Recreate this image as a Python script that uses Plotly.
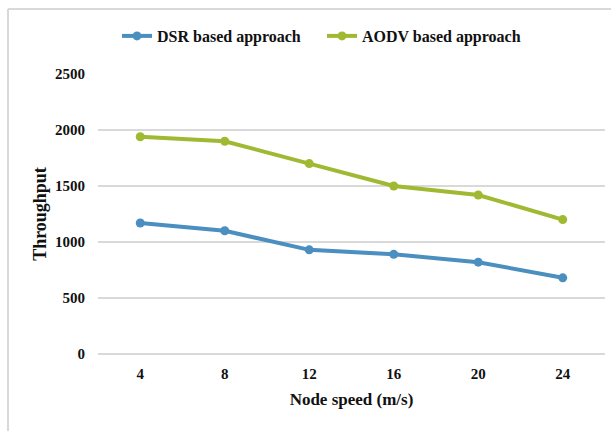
import plotly.graph_objects as go

# Node speed categories (m/s) and throughput for each routing approach
node_speed = ["4", "8", "12", "16", "20", "24"]
dsr_throughput = [1170, 1100, 930, 890, 820, 680]
aodv_throughput = [1940, 1900, 1700, 1500, 1420, 1200]
y_ticks = [0, 500, 1000, 1500, 2000, 2500]

W, H = 611, 431
M_L, M_R, M_T, M_B = 98, 6, 74, 77

BLUE = "#4a8fbf"
GREEN = "#9fba32"
SERIF = "Liberation Serif, Times New Roman, serif"
FONT = dict(family=SERIF, size=15, color="#111111", weight="bold")
LEGEND_FONT = dict(FONT, size=16)
TITLE_FONT = dict(FONT, size=17)

fig = go.Figure()
fig.add_trace(go.Scatter(
    x=node_speed, y=dsr_throughput, name="DSR based approach",
    mode="lines+markers",
    line=dict(color=BLUE, width=4),
    marker=dict(color=BLUE, size=9),
))
fig.add_trace(go.Scatter(
    x=node_speed, y=aodv_throughput, name="AODV based approach",
    mode="lines+markers",
    line=dict(color=GREEN, width=4),
    marker=dict(color=GREEN, size=9),
))

# Light frame along the top and left edges of the chart area
pw = W - M_L - M_R
ph = H - M_T - M_B
x_left = (8 - M_L) / pw
y_top = (H - M_B - 9) / ph
fig.add_shape(type="line", xref="paper", yref="paper",
              x0=x_left, x1=(W - M_L) / pw, y0=y_top, y1=y_top,
              line=dict(color="#d9d9d9", width=2))
fig.add_shape(type="line", xref="paper", yref="paper",
              x0=x_left, x1=x_left, y0=y_top, y1=(H - M_B - H) / ph,
              line=dict(color="#d9d9d9", width=2))

fig.update_layout(
    width=W, height=H,
    margin=dict(l=M_L, r=M_R, t=M_T, b=M_B),
    paper_bgcolor="white", plot_bgcolor="white",
    font=FONT,
    showlegend=True,
    legend=dict(orientation="h", x=(117 - M_L) / pw, xanchor="left",
                y=1 + (M_T - 36) / ph, yanchor="middle",
                font=LEGEND_FONT, itemwidth=30, tracegroupgap=0,
                entrywidth=160, entrywidthmode="pixels"),
    xaxis=dict(
        type="category", range=[-0.5, len(node_speed) - 0.5],
        showgrid=False, showline=False, zeroline=False,
        ticks="", tickfont=FONT, ticklabelstandoff=9,
        title=dict(text="Node speed (m/s)", font=TITLE_FONT, standoff=12),
    ),
    yaxis=dict(
        range=[0, 2500], tickvals=y_ticks,
        showgrid=True, gridcolor="#d9d9d9", gridwidth=1.5,
        zeroline=True, zerolinecolor="#d9d9d9", zerolinewidth=1.5,
        showline=False, ticks="", tickfont=FONT,
        ticklabelstandoff=12,
        title=dict(text="Throughput", font=dict(FONT, size=18), standoff=3),
    ),
)

fig.write_html("out.html")
